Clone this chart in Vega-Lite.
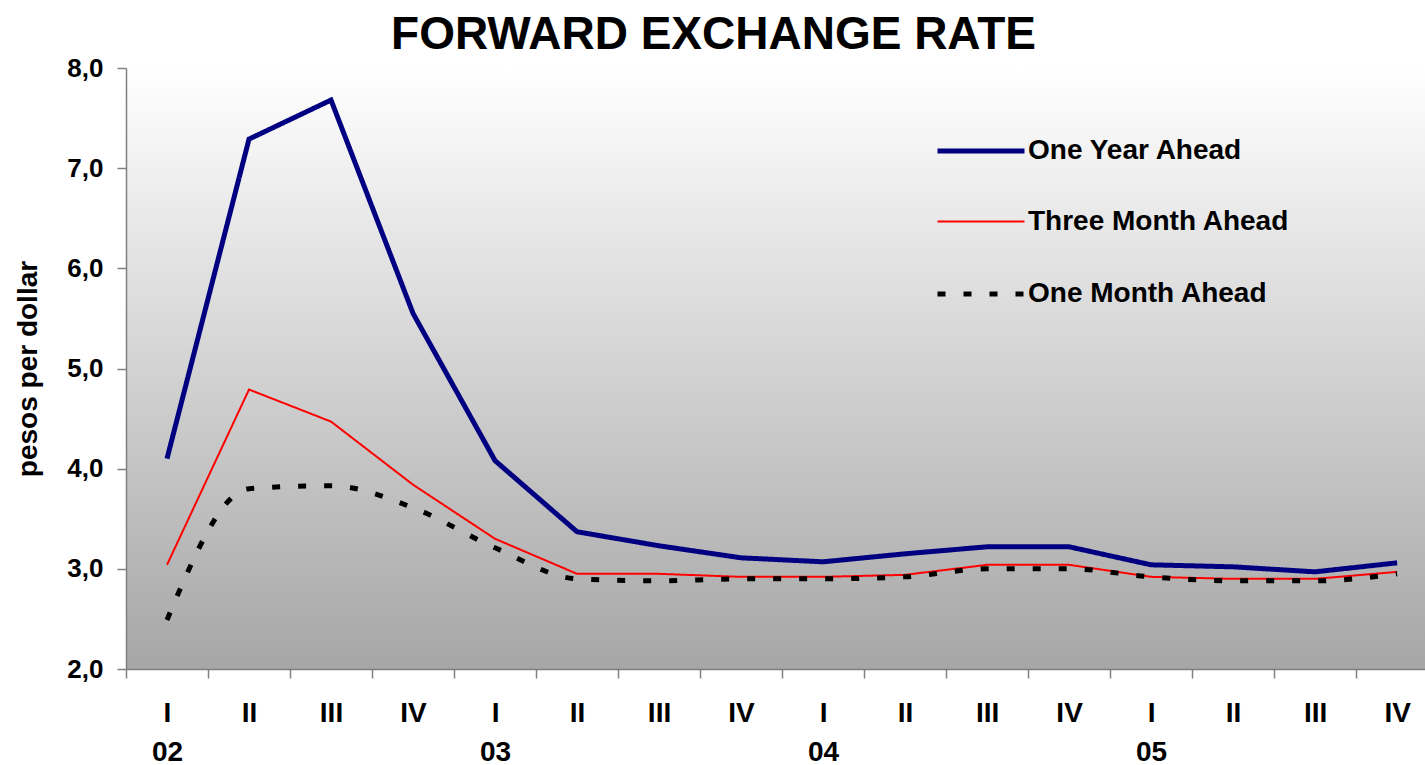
{
  "$schema": "https://vega.github.io/schema/vega-lite/v6.json",
  "autosize": "none",
  "padding": {"left": 126, "top": 68, "right": 0, "bottom": 96},
  "width": 1299,
  "height": 601,
  "background": "#ffffff",
  "title": {
    "text": "FORWARD EXCHANGE RATE",
    "font": "Liberation Sans",
    "fontSize": 46,
    "fontWeight": "bold",
    "color": "#000000",
    "anchor": "middle",
    "frame": "group",
    "dx": -62,
    "dy": 46,
    "baseline": "alphabetic",
    "offset": 6
  },
  "config": {
    "view": {
      "stroke": null,
      "fill": {
        "gradient": "linear",
        "x1": 0, "y1": 0, "x2": 0, "y2": 1,
        "stops": [
          {"offset": 0, "color": "#ffffff"},
          {"offset": 1, "color": "#a6a6a6"}
        ]
      }
    },
    "axis": {
      "grid": false,
      "domainColor": "#808080",
      "domainWidth": 1.5,
      "tickColor": "#808080",
      "tickWidth": 1.5,
      "tickSize": 9,
      "labelFont": "Liberation Sans",
      "labelFontWeight": "bold",
      "labelColor": "#000000",
      "titleFont": "Liberation Sans",
      "titleFontWeight": "bold",
      "titleColor": "#000000"
    }
  },
  "data": {
    "values": [
      {"i": 1, "series": "One Year Ahead", "rate": 4.10},
      {"i": 2, "series": "One Year Ahead", "rate": 7.29},
      {"i": 3, "series": "One Year Ahead", "rate": 7.68},
      {"i": 4, "series": "One Year Ahead", "rate": 5.55},
      {"i": 5, "series": "One Year Ahead", "rate": 4.08},
      {"i": 6, "series": "One Year Ahead", "rate": 3.37},
      {"i": 7, "series": "One Year Ahead", "rate": 3.23},
      {"i": 8, "series": "One Year Ahead", "rate": 3.11},
      {"i": 9, "series": "One Year Ahead", "rate": 3.07},
      {"i": 10, "series": "One Year Ahead", "rate": 3.15},
      {"i": 11, "series": "One Year Ahead", "rate": 3.22},
      {"i": 12, "series": "One Year Ahead", "rate": 3.22},
      {"i": 13, "series": "One Year Ahead", "rate": 3.04},
      {"i": 14, "series": "One Year Ahead", "rate": 3.02},
      {"i": 15, "series": "One Year Ahead", "rate": 2.97},
      {"i": 16, "series": "One Year Ahead", "rate": 3.06},
      {"i": 1, "series": "Three Month Ahead", "rate": 3.04},
      {"i": 2, "series": "Three Month Ahead", "rate": 4.79},
      {"i": 3, "series": "Three Month Ahead", "rate": 4.47},
      {"i": 4, "series": "Three Month Ahead", "rate": 3.84},
      {"i": 5, "series": "Three Month Ahead", "rate": 3.30},
      {"i": 6, "series": "Three Month Ahead", "rate": 2.95},
      {"i": 7, "series": "Three Month Ahead", "rate": 2.95},
      {"i": 8, "series": "Three Month Ahead", "rate": 2.92},
      {"i": 9, "series": "Three Month Ahead", "rate": 2.92},
      {"i": 10, "series": "Three Month Ahead", "rate": 2.94},
      {"i": 11, "series": "Three Month Ahead", "rate": 3.04},
      {"i": 12, "series": "Three Month Ahead", "rate": 3.04},
      {"i": 13, "series": "Three Month Ahead", "rate": 2.92},
      {"i": 14, "series": "Three Month Ahead", "rate": 2.90},
      {"i": 15, "series": "Three Month Ahead", "rate": 2.90},
      {"i": 16, "series": "Three Month Ahead", "rate": 2.97},
      {"i": 1, "series": "One Month Ahead", "rate": 2.49},
      {"i": 2, "series": "One Month Ahead", "rate": 3.80},
      {"i": 3, "series": "One Month Ahead", "rate": 3.83},
      {"i": 4, "series": "One Month Ahead", "rate": 3.61},
      {"i": 5, "series": "One Month Ahead", "rate": 3.21},
      {"i": 6, "series": "One Month Ahead", "rate": 2.90},
      {"i": 7, "series": "One Month Ahead", "rate": 2.88},
      {"i": 8, "series": "One Month Ahead", "rate": 2.90},
      {"i": 9, "series": "One Month Ahead", "rate": 2.90},
      {"i": 10, "series": "One Month Ahead", "rate": 2.92},
      {"i": 11, "series": "One Month Ahead", "rate": 3.00},
      {"i": 12, "series": "One Month Ahead", "rate": 3.00},
      {"i": 13, "series": "One Month Ahead", "rate": 2.92},
      {"i": 14, "series": "One Month Ahead", "rate": 2.88},
      {"i": 15, "series": "One Month Ahead", "rate": 2.88},
      {"i": 16, "series": "One Month Ahead", "rate": 2.95}
    ]
  },
  "encoding": {
    "x": {
      "field": "i",
      "type": "quantitative",
      "scale": {"domain": [0.5, 16.34], "nice": false, "zero": false},
      "axis": {
        "title": null,
        "values": [0.5, 1.5, 2.5, 3.5, 4.5, 5.5, 6.5, 7.5, 8.5, 9.5, 10.5, 11.5, 12.5, 13.5, 14.5, 15.5],
        "labelOffset": 41,
        "labelFlush": false,
        "labelOverlap": false,
        "labelBound": false,
        "labelFontSize": 28,
        "labelLineHeight": 39,
        "labelPadding": 21,
        "labelExpr": "[['I','II','III','IV'][(datum.value - 0.5) % 4], (datum.value - 0.5) % 4 == 0 ? ['02','03','04','05'][floor((datum.value - 0.5) / 4)] : '']"
      }
    },
    "y": {
      "field": "rate",
      "type": "quantitative",
      "scale": {"domain": [2, 8], "nice": false, "zero": false},
      "axis": {
        "title": "pesos per dollar",
        "titleFontSize": 28,
        "titlePadding": 24,
        "values": [2, 3, 4, 5, 6, 7, 8],
        "labelFontSize": 26,
        "labelPadding": 14,
        "labelExpr": "replace(format(datum.value, '.1f'), '.', ',')"
      }
    },
    "color": {
      "field": "series",
      "type": "nominal",
      "scale": {
        "domain": ["One Year Ahead", "Three Month Ahead", "One Month Ahead"],
        "range": ["#000080", "#ff0000", "#000000"]
      },
      "legend": {
        "title": null,
        "orient": "none",
        "legendX": 809,
        "legendY": 37,
        "symbolType": "stroke",
        "symbolSize": 7569,
        "labelFont": "Liberation Sans",
        "labelFontSize": 28,
        "labelFontWeight": "bold",
        "labelColor": "#000000",
        "labelLimit": 0,
        "labelOffset": 1,
        "rowPadding": 12
      }
    },
    "strokeWidth": {
      "field": "series",
      "type": "nominal",
      "scale": {
        "type": "ordinal",
        "domain": ["One Year Ahead", "Three Month Ahead", "One Month Ahead"],
        "range": [5, 2, 5]
      },
      "legend": null
    },
    "strokeDash": {
      "field": "series",
      "type": "nominal",
      "scale": {
        "domain": ["One Year Ahead", "Three Month Ahead", "One Month Ahead"],
        "range": [[1, 0], [1, 0], [8, 18]]
      },
      "legend": null
    }
  },
  "layer": [
    {
      "transform": [{"filter": "datum.series != 'One Month Ahead'"}],
      "mark": {"type": "line", "interpolate": "linear", "clip": true}
    },
    {
      "transform": [{"filter": "datum.series == 'One Month Ahead'"}],
      "mark": {"type": "line", "interpolate": "monotone", "clip": true}
    }
  ]
}
